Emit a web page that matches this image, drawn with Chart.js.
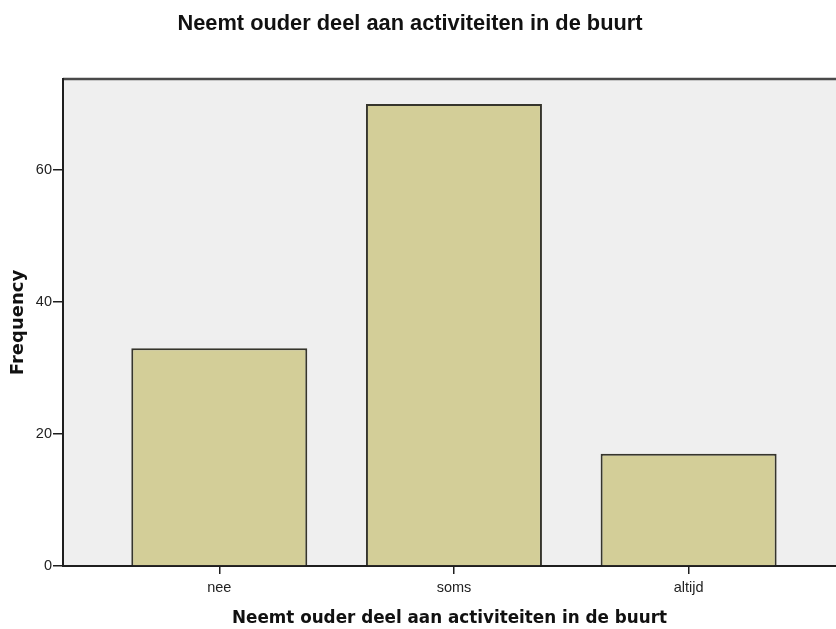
<!DOCTYPE html>
<html>
<head>
<meta charset="utf-8">
<script src="https://cdn.jsdelivr.net/npm/chart.js@4/dist/chart.umd.min.js"></script>
<style>
  html, body { margin: 0; padding: 0; background: #fff; }
  #wrap { width: 836px; height: 629px; position: relative; }
</style>
</head>
<body>
<div id="wrap"><canvas id="chart"></canvas></div>
<script>
const categories = ["nee", "soms", "altijd"];
const frequencies = [33, 70, 17];
const yTicks = [0, 20, 40, 60];
const chartTitle = "Neemt ouder deel aan activiteiten in de buurt";
const xTitle = "Neemt ouder deel aan activiteiten in de buurt";
const yTitle = "Frequency";

const colors = {
    bar: "rgb(211, 206, 152)",
    barBorder: "#36352c",
    plot: "#efefef",
    axis: "#1e1e1e",
    frame: "#4a4a4a",
    text: "#222222"
};

// grey plot background, the frame line along the top and the chart title
const plotFrame = {
    id: "plotFrame",
    beforeDraw(chart) {
        const { ctx, chartArea: a } = chart;
        ctx.save();
        ctx.fillStyle = colors.plot;
        ctx.fillRect(a.left, a.top, a.right - a.left, a.bottom - a.top);
        ctx.strokeStyle = colors.frame;
        ctx.lineWidth = 2.5;
        ctx.beginPath();
        ctx.moveTo(a.left, a.top);
        ctx.lineTo(a.right, a.top);
        ctx.stroke();
        ctx.restore();
    },
    afterDraw(chart) {
        const { ctx } = chart;
        ctx.save();
        ctx.fillStyle = "#111";
        ctx.font = "bold 21.8px 'Liberation Sans', Arial, sans-serif";
        ctx.textAlign = "center";
        ctx.textBaseline = "middle";
        ctx.fillText(chartTitle, 410, 24);
        ctx.restore();
    }
};

new Chart(document.getElementById("chart"), {
    type: "bar",
    data: {
        datasets: [{
            data: frequencies.map((value, i) => ({ x: i, y: value })),
            backgroundColor: colors.bar,
            borderColor: colors.barBorder,
            borderWidth: 2,
            barPercentage: 0.75,
            categoryPercentage: 1
        }]
    },
    options: {
        responsive: true,
        maintainAspectRatio: false,
        animation: false,
        layout: { padding: { top: 79, left: 0, right: 0, bottom: 0 } },
        plugins: {
            legend: { display: false },
            tooltip: { enabled: false }
        },
        scales: {
            x: {
                type: "linear",
                min: -0.666,
                max: 2.628,
                offset: false,
                z: 1,
                afterBuildTicks: scale => { scale.ticks = categories.map((c, i) => ({ value: i })); },
                afterFit: scale => { scale.height = 63; },
                grid: { offset: false, drawOnChartArea: false, drawTicks: true, tickLength: 8, color: colors.axis, lineWidth: 1.5 },
                border: { display: true, color: colors.axis, width: 2 },
                ticks: {
                    includeBounds: false,
                    autoSkip: false,
                    maxRotation: 0,
                    padding: 5,
                    color: colors.text,
                    font: { family: "'Liberation Sans', Arial, sans-serif", size: 14.5 },
                    callback: value => categories[value]
                },
                title: {
                    display: true,
                    text: xTitle,
                    color: "#111",
                    padding: { top: 0, bottom: 0 },
                    font: { family: "'DejaVu Sans', Verdana, sans-serif", size: 16.8, weight: "bold" }
                }
            },
            y: {
                min: 0,
                max: 73.8,
                z: 1,
                afterBuildTicks: scale => { scale.ticks = yTicks.map(v => ({ value: v })); },
                afterFit: scale => { scale.width = 63; },
                grid: { drawOnChartArea: false, drawTicks: true, tickLength: 10, color: colors.axis, lineWidth: 1.5 },
                border: { display: true, color: colors.axis, width: 2 },
                ticks: {
                    includeBounds: false,
                    padding: 1,
                    color: colors.text,
                    font: { family: "'Liberation Sans', Arial, sans-serif", size: 14.5 }
                },
                title: {
                    display: true,
                    text: yTitle,
                    color: "#111",
                    padding: { top: 8, bottom: 0 },
                    font: { family: "'DejaVu Sans', Verdana, sans-serif", size: 18, weight: "bold" }
                }
            }
        }
    },
    plugins: [plotFrame]
});
</script>
</body>
</html>
